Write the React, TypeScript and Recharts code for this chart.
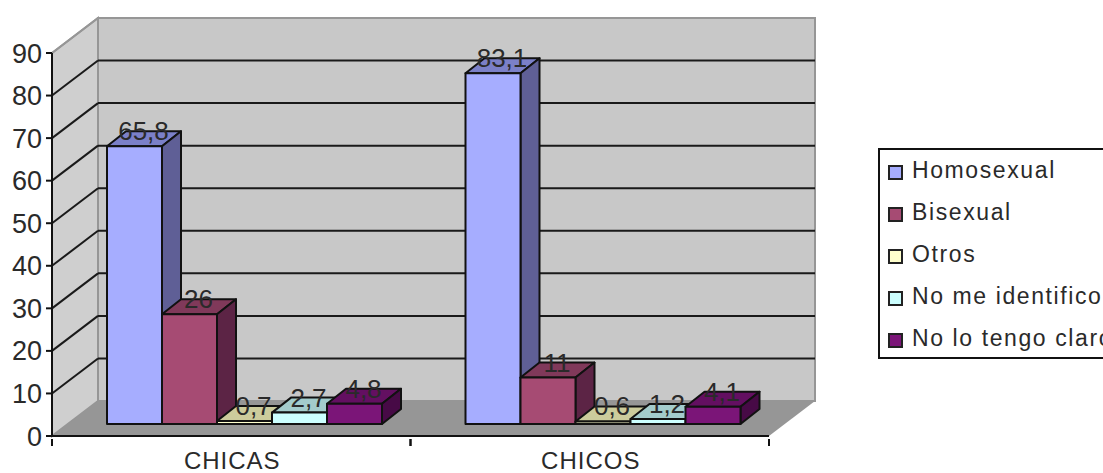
import { BarChart, Bar, XAxis, YAxis, CartesianGrid, Legend, LabelList } from "recharts"

const CATEGORIES = ["CHICAS", "CHICOS"]
const SERIES_NAMES = ["Homosexual", "Bisexual", "Otros", "No me identifico", "No lo tengo claro"]
const HOMOSEXUAL = [65.8, 83.1]
const BISEXUAL = [26, 11]
const OTROS = [0.7, 0.6]
const NO_IDENTIFICO = [2.7, 1.2]
const NO_CLARO = [4.8, 4.1]
const SERIES_VALUES = [HOMOSEXUAL, BISEXUAL, OTROS, NO_IDENTIFICO, NO_CLARO]
const Y_TICKS = [0, 10, 20, 30, 40, 50, 60, 70, 80, 90]

const FRONT = ["#a6adff", "#a64b73", "#ffffcc", "#ccffff", "#7b1578"]
const TOP = ["#7b80c8", "#80395a", "#cccc9c", "#a3cccc", "#630f61"]
const SIDE = ["#5f5f96", "#5c2445", "#8f8f6a", "#6f9999", "#470a46"]

const data = CATEGORIES.map((category, i) => {
  const row: Record<string, string | number> = { category }
  SERIES_NAMES.forEach((name, s) => {
    row[name] = SERIES_VALUES[s][i]
  })
  return row
})

// plot frame (front plane of the fake 3d box)
const LEFT = 52
const RIGHT = 769
const TOP_Y = 53
const BOTTOM_Y = 436
const WALL_DX = 46
const WALL_DY = -35
const BAND = (RIGHT - LEFT) / CATEGORIES.length

// bars stand in the middle of the floor, with their own small depth
const BAR_DX = 13
const BAR_DY = -12
const BAR_SCALE = 0.992
const DEPTH_X = 19
const DEPTH_Y = -15

const FONT = "'Liberation Sans', Arial, sans-serif"
const INK = "#2a2a2a"

function Walls() {
  const bx = LEFT + WALL_DX
  const rx = RIGHT + WALL_DX
  const ty = TOP_Y + WALL_DY
  const by = BOTTOM_Y + WALL_DY
  return (
    <g>
      <polygon points={`${bx},${ty} ${rx},${ty} ${rx},${by} ${bx},${by}`} fill="#c8c8c8" stroke="#969696" strokeWidth={2} />
      <polygon points={`${LEFT},${TOP_Y} ${bx},${ty} ${bx},${by} ${LEFT},${BOTTOM_Y}`} fill="#cfcfcf" stroke="#969696" strokeWidth={2} />
      <polygon points={`${LEFT},${BOTTOM_Y} ${bx},${by} ${rx},${by} ${RIGHT},${BOTTOM_Y}`} fill="#969696" />
    </g>
  )
}

function gridLine(props: any) {
  const y = props.y1
  if (y >= BOTTOM_Y - 1) return <g key={props.key ?? y} />
  const isTop = y <= TOP_Y + 1
  const stroke = isTop ? "#969696" : "#1a1a1a"
  return (
    <g key={props.key ?? y}>
      <line x1={LEFT} y1={y} x2={LEFT + WALL_DX} y2={y + WALL_DY} stroke={stroke} strokeWidth={2} />
      <line x1={LEFT + WALL_DX} y1={y + WALL_DY} x2={RIGHT + WALL_DX} y2={y + WALL_DY} stroke={stroke} strokeWidth={2} />
    </g>
  )
}

function makeBox(series: number) {
  return function Box(props: any) {
    const { x, y, width, height } = props
    const h = height * BAR_SCALE
    const l = x + BAR_DX
    const r = l + width
    const b = y + height + BAR_DY
    const t = b - h
    const line = { stroke: "#111", strokeWidth: 2, strokeLinejoin: "round" as const }
    return (
      <g>
        <polygon points={`${l},${t} ${r},${t} ${r + DEPTH_X},${t + DEPTH_Y} ${l + DEPTH_X},${t + DEPTH_Y}`} fill={TOP[series]} {...line} />
        <polygon points={`${r},${t} ${r + DEPTH_X},${t + DEPTH_Y} ${r + DEPTH_X},${b + DEPTH_Y} ${r},${b}`} fill={SIDE[series]} {...line} />
        <rect x={l} y={t} width={width} height={h} fill={FRONT[series]} {...line} />
      </g>
    )
  }
}

function barLabel(props: any) {
  const { x, y, width, height, value } = props
  const bottom = y + height + BAR_DY
  const top = bottom - height * BAR_SCALE
  return (
    <text
      x={x + BAR_DX + width / 2 + 9}
      y={top - 6}
      textAnchor="middle"
      fontFamily={FONT}
      fontSize={26}
      fill={INK}
    >
      {String(value).replace(".", ",")}
    </text>
  )
}

function CategoryTick(props: any) {
  const { x, y, payload } = props
  const edge = y - 5
  return (
    <g>
      <line x1={x - BAND / 2} y1={edge} x2={x - BAND / 2} y2={edge + 7} stroke="#111" strokeWidth={2} />
      <line x1={x + BAND / 2} y1={edge} x2={x + BAND / 2} y2={edge + 7} stroke="#111" strokeWidth={2} />
      <text x={x + 1} y={469} textAnchor="middle" fontFamily={FONT} fontSize={24} letterSpacing={1} fill={INK}>
        {payload.value}
      </text>
    </g>
  )
}

function LegendBox({ payload }: any) {
  return (
    <div
      style={{
        width: 260,
        height: 211,
        boxSizing: "border-box",
        border: "2px solid #111",
        background: "#fff",
        padding: "0 0 0 8px",
        fontFamily: FONT,
        fontSize: 23,
        letterSpacing: 1.6,
        color: INK,
      }}
    >
      {(payload ?? []).map((entry: any) => (
        <div key={entry.value} style={{ height: 42, display: "flex", alignItems: "center", whiteSpace: "nowrap" }}>
          <span
            style={{
              width: 15,
              height: 15,
              boxSizing: "border-box",
              border: "2px solid #222",
              background: entry.color,
              marginRight: 9,
              flex: "none",
              position: "relative",
              top: 1,
            }}
          />
          <span style={{ position: "relative", top: -1 }}>{entry.value}</span>
        </div>
      ))}
    </div>
  )
}

export default function App() {
  return (
    <div style={{ position: "absolute", left: 0, top: 0, width: 1103, height: 473, overflow: "hidden", background: "#fff" }}>
      <BarChart
        width={1103}
        height={473}
        data={data}
        margin={{ top: TOP_Y, right: 1103 - RIGHT, bottom: 0, left: 0 }}
        barSize={55}
        barGap={0}
      >
        <Walls />
        <CartesianGrid horizontal={gridLine} vertical={false} zIndex={1} />
        <XAxis
          dataKey="category"
          height={473 - BOTTOM_Y}
          axisLine={{ stroke: "#111", strokeWidth: 2 }}
          tickLine={false}
          tick={CategoryTick}
          interval={0}
        />
        <YAxis
          domain={[0, 90]}
          ticks={Y_TICKS}
          width={LEFT}
          interval={0}
          tickSize={6}
          tickMargin={4}
          axisLine={{ stroke: "#111", strokeWidth: 2 }}
          tickLine={{ stroke: "#111", strokeWidth: 2 }}
          tick={{ fontFamily: FONT, fontSize: 27, fill: INK }}
        />
        <Legend
          layout="vertical"
          align="center"
          verticalAlign="middle"
          itemSorter={null}
          wrapperStyle={{ left: 878, top: 148, width: 260 }}
          content={LegendBox}
        />
        {SERIES_NAMES.map((name, s) => (
          <Bar key={name} dataKey={name} name={name} fill={FRONT[s]} shape={makeBox(s)} isAnimationActive={false}>
            <LabelList dataKey={name} content={barLabel} />
          </Bar>
        ))}
      </BarChart>
    </div>
  )
}
